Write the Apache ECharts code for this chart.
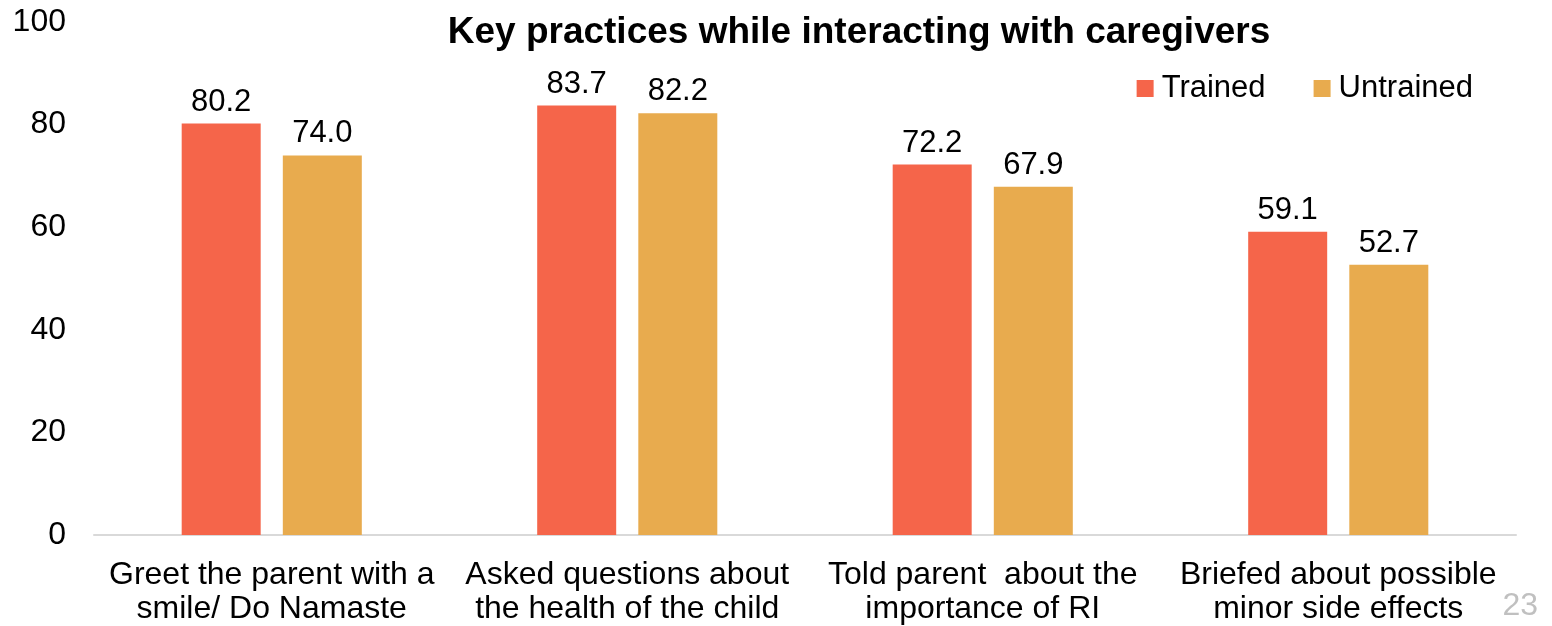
<!DOCTYPE html>
<html><head><meta charset="utf-8">
<script src="https://cdn.jsdelivr.net/npm/echarts@6/dist/echarts.min.js"></script>
<style>html,body{margin:0;padding:0;background:#fff}#c{width:1552px;height:626px}</style>
</head><body><div id="c"></div>
<script>
const categories = ["Greet the parent with a\nsmile/ Do Namaste","Asked questions about\nthe health of the child","Told parent  about the\nimportance of RI","Briefed about possible\nminor side effects"];
const trained = [80.2, 83.7, 72.2, 59.1];
const untrained = [74.0, 82.2, 67.9, 52.7];
const FONT = "Liberation Sans, Arial, sans-serif";
const chart = echarts.init(document.getElementById('c'));
const lbl = {show:true, position:'top', distance:6, color:'#000', fontSize:31, fontFamily:FONT, formatter:p=>p.value.toFixed(1)};
chart.setOption({
  animation:false,
  title:{text:'Key practices while interacting with caregivers', left:854, textAlign:'center', top:9,
    textStyle:{fontSize:37, fontWeight:'bold', color:'#000', fontFamily:FONT}},
  legend:{right:74, top:68, itemWidth:17, itemHeight:17, itemGap:48, icon:'rect',
    textStyle:{fontSize:31, color:'#000', fontFamily:FONT, padding:[0,0,0,3]}, data:['Trained','Untrained']},
  grid:{left:94, right:36, top:22, bottom:90},
  xAxis:{type:'category', data:categories,
    axisLine:{lineStyle:{color:'#d9d9d9', width:2}}, axisTick:{show:false},
    axisLabel:{fontSize:32, color:'#000', fontFamily:FONT, lineHeight:34, margin:23, interval:0}},
  yAxis:{type:'value', min:0, max:100, interval:20, splitLine:{show:false},
    axisLine:{show:false}, axisTick:{show:false},
    axisLabel:{fontSize:32, color:'#000', fontFamily:FONT, margin:28}},
  series:[
    {name:'Trained', type:'bar', data:trained, barWidth:79, barGap:'28%', itemStyle:{color:'#F5654A'}, label:lbl},
    {name:'Untrained', type:'bar', data:untrained, barWidth:79, itemStyle:{color:'#E8AB4E'}, label:lbl}
  ],
  graphic:[{type:'text', right:14, top:590, style:{text:'23', fontSize:32, fill:'#c0c0c0', fontFamily:FONT}}]
});
</script></body></html>
